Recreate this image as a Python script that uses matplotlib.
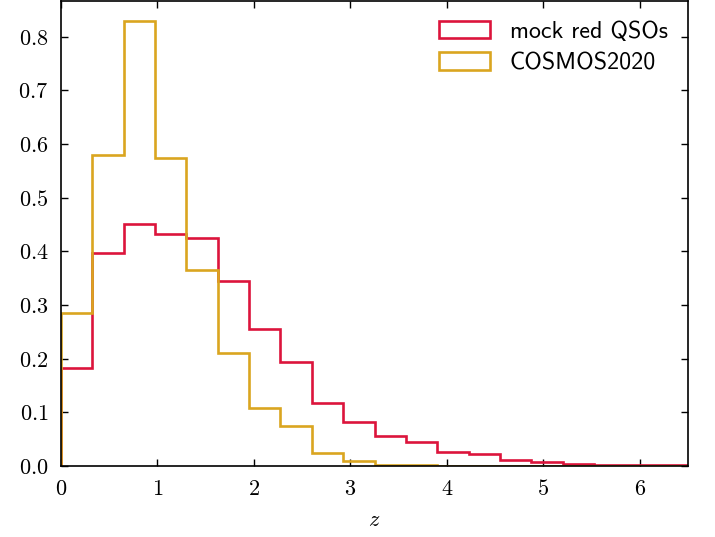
import os
import numpy as np
import matplotlib
matplotlib.use("Agg")
import matplotlib.pyplot as plt
from matplotlib.font_manager import FontProperties

plt.rcParams['mathtext.fontset'] = 'cm'

edges = np.linspace(0, 6.5, 21)
mock_red_qsos = [0.183, 0.396, 0.450, 0.433, 0.424, 0.344, 0.255, 0.193, 0.117, 0.083,
                 0.056, 0.045, 0.026, 0.022, 0.011, 0.0075, 0.0045, 0.003, 0.0018, 0.0012]
cosmos2020 = [0.286, 0.579, 0.828, 0.573, 0.365, 0.210, 0.108, 0.074, 0.025, 0.0098,
              0.003, 0.0012, 0.0006, 0.0004, 0.0003, 0.0002, 0.0001, 0.0001, 0.0001, 0.0001]
labels = ['mock red QSOs', 'COSMOS2020']
colors = ['#DC143C', '#DAA520']
yticks = [0.0, 0.1, 0.2, 0.3, 0.4, 0.5, 0.6, 0.7, 0.8]
xticks = [0, 1, 2, 3, 4, 5, 6]

cmss = os.path.join(matplotlib.get_data_path(), 'fonts', 'ttf', 'cmss10.ttf')
if os.path.exists(cmss):
    legprop = FontProperties(fname=cmss, size=17.2)
else:
    legprop = FontProperties(family='DejaVu Sans', size=15)

fig = plt.figure(figsize=(7.15, 5.37), dpi=100)
ax = fig.add_axes([0.0853, 0.132, 0.877, 0.867])
centers = 0.5 * (edges[:-1] + edges[1:])
for vals, lab, col in zip([mock_red_qsos, cosmos2020], labels, colors):
    ax.hist(centers, bins=edges, weights=vals, histtype='step', color=col, lw=1.9, label=lab)

ax.set_xlim(0, 6.5)
ax.set_ylim(0, 0.867)
ax.set_yticks(yticks)
ax.set_yticklabels([f'${v:.1f}$' for v in yticks])
ax.set_xticks(xticks)
ax.set_xticklabels([f'${v}$' for v in xticks])
ax.tick_params(direction='in', top=True, right=True, length=5, width=1, labelsize=16)
ax.tick_params(axis='x', pad=9)
ax.tick_params(axis='y', pad=9)
for s in ax.spines.values():
    s.set_linewidth(1.2)
ax.set_xlabel(r'$z$', fontsize=16, labelpad=8)
ax.legend(loc='upper right', frameon=False, prop=legprop, handlelength=2.1, handleheight=0.75,
          handletextpad=0.85, labelspacing=0.4, borderaxespad=0.45)
fig.savefig('out.png', dpi=100)
